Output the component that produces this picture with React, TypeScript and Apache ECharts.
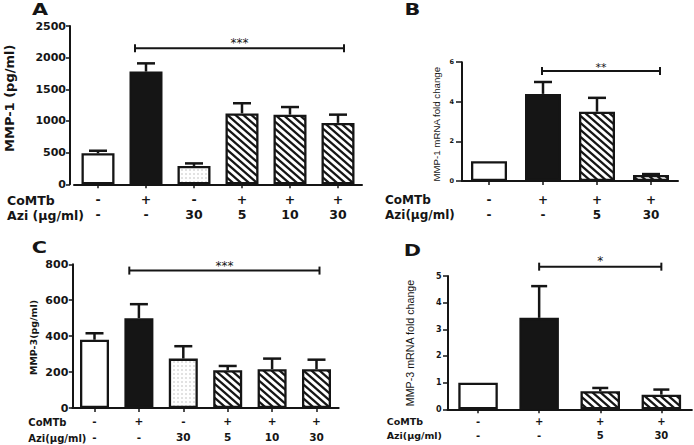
import React, { useEffect, useRef } from 'react';
import * as echarts from 'echarts';

// ---------- DATA ----------
// Panel A: MMP-1 protein (pg/ml)
const comTbA = ['-', '+', '-', '+', '+', '+'];
const aziA = ['-', '-', '30', '5', '10', '30'];
const meanA = [490, 1780, 290, 1120, 1100, 970];
const semA = [40, 130, 40, 160, 120, 130];
const fillA = ['open', 'solid', 'dotted', 'hatched', 'hatched', 'hatched'];
const bracketA = [1, 5, 2150];
const starsA = '***';
const ticksA = [0, 500, 1000, 1500, 2000, 2500];

// Panel B: MMP-1 mRNA fold change
const comTbB = ['-', '+', '+', '+'];
const aziB = ['-', '-', '5', '30'];
const meanB = [1.0, 4.4, 3.5, 0.3];
const semB = [0, 0.6, 0.7, 0.05];
const fillB = ['open', 'solid', 'hatched', 'hatched'];
const bracketB = [1, 3, 5.55];
const starsB = '**';
const ticksB = [0, 2, 4, 6];

// Panel C: MMP-3 protein (pg/ml)
const comTbC = ['-', '+', '-', '+', '+', '+'];
const aziC = ['-', '-', '30', '5', '10', '30'];
const meanC = [380, 500, 275, 210, 216, 216];
const semC = [36, 78, 69, 24, 59, 53];
const fillC = ['open', 'solid', 'dotted', 'hatched', 'hatched', 'hatched'];
const bracketC = [1, 5, 765];
const starsC = '***';
const ticksC = [0, 200, 400, 600, 800];

// Panel D: MMP-3 mRNA fold change
const comTbD = ['-', '+', '+', '+'];
const aziD = ['-', '-', '5', '30'];
const meanD = [1.0, 3.43, 0.68, 0.55];
const semD = [0, 1.19, 0.12, 0.19];
const fillD = ['open', 'solid', 'hatched', 'hatched'];
const bracketD = [1, 3, 5.35];
const starsD = '*';
const ticksD = [0, 1, 2, 3, 4, 5];

const titles = ['A', 'B', 'C', 'D'];
const yTitles = ['MMP-1 (pg/ml)', 'MMP-1 mRNA fold change', 'MMP-3(pg/ml)', 'MMP-3 mRNA fold change'];
const rowNames = [
  ['CoMTb', 'Azi (\u03bcg/ml)'],
  ['CoMTb', 'Azi(\u03bcg/ml)'],
  ['CoMTb', 'Azi(\u03bcg/ml)'],
  ['CoMTb', 'Azi(\u03bcg/ml)'],
];

// ---------- STYLE / LAYOUT ----------
const INK = '#151515';
const SANS = "'DejaVu Sans', sans-serif";
const ARIAL = "'Liberation Sans', Arial, sans-serif";

const layouts = [
  { left: 74, top: 26, width: 288, height: 158.3, yOffset: 4, tickLen: 4, yLabelSize: 11, yLabelMargin: 4,
    xLabelSize: 12.5, xLineHeight: 15, xLabelMargin: 8, barWidth: 33, cap: 9, dl: -11, dr: 6, starDy: -5.5, starSize: 12,
    letter: [40, 9.2], yTitle: { x: 9.2, y: 98.3, font: `bold 13px ${SANS}` },
    rows: { x: 7, y: [200, 215], size: 12.5 } },
  { left: 462, top: 62.2, width: 216, height: 118.8, yOffset: 0, tickLen: 6, yLabelSize: 6.5, yLabelMargin: 8,
    xLabelSize: 12, xLineHeight: 15, xLabelMargin: 11.5, barWidth: 36, cap: 9, dl: -1, dr: 9, starDy: -3.5, starSize: 11,
    letter: [412.5, 9.2], yTitle: { x: 436.7, y: 124.2, font: `9.7px ${ARIAL}` },
    rows: { x: 385, y: [200, 215], size: 12 } },
  { left: 72.3, top: 264.3, width: 266.4, height: 145, yOffset: 0, tickLen: 3.5, yLabelSize: 11, yLabelMargin: 4,
    xLabelSize: 10.5, xLineHeight: 16, xLabelMargin: 5, barWidth: 29, cap: 9, dl: -9.6, dr: 3, starDy: -4.8, starSize: 12,
    letter: [39.5, 247.5], yTitle: { x: 33.5, y: 337.5, font: `bold 9.5px ${SANS}` },
    rows: { x: 28.3, y: [422.3, 438.3], size: 10 } },
  { left: 447.5, top: 276, width: 244.4, height: 133.3, yOffset: 0, tickLen: 4.5, yLabelSize: 8, yLabelMargin: 6,
    xLabelSize: 10, xLineHeight: 13.5, xLabelMargin: 5.6, barWidth: 39.5, cap: 8, dl: 0, dr: 0, starDy: -5.2, starSize: 12,
    letter: [412.5, 250], yTitle: { x: 410, y: 343, font: `10.7px ${ARIAL}` },
    rows: { x: 386.7, y: [421.7, 435], size: 9.5 } },
];

const panels = [
  { comTb: comTbA, azi: aziA, mean: meanA, sem: semA, fill: fillA, bracket: bracketA, stars: starsA, ticks: ticksA },
  { comTb: comTbB, azi: aziB, mean: meanB, sem: semB, fill: fillB, bracket: bracketB, stars: starsB, ticks: ticksB },
  { comTb: comTbC, azi: aziC, mean: meanC, sem: semC, fill: fillC, bracket: bracketC, stars: starsC, ticks: ticksC },
  { comTb: comTbD, azi: aziD, mean: meanD, sem: semD, fill: fillD, bracket: bracketD, stars: starsD, ticks: ticksD },
];

function makeHatch(): HTMLCanvasElement {
  const w = 8, h = 7;
  const c = document.createElement('canvas');
  c.width = w; c.height = h;
  const ctx = c.getContext('2d')!;
  ctx.fillStyle = '#ffffff';
  ctx.fillRect(0, 0, w, h);
  ctx.strokeStyle = INK;
  ctx.lineWidth = 2.3;
  for (let k = -1; k <= 1; k++) {
    ctx.beginPath();
    ctx.moveTo(-w, k * h - h);
    ctx.lineTo(2 * w, k * h + 2 * h);
    ctx.stroke();
  }
  return c;
}

function makeDots(): HTMLCanvasElement {
  const s = 4;
  const c = document.createElement('canvas');
  c.width = s; c.height = s;
  const ctx = c.getContext('2d')!;
  ctx.fillStyle = '#ffffff';
  ctx.fillRect(0, 0, s, s);
  ctx.fillStyle = '#8a8a8a';
  ctx.fillRect(1.5, 1.5, 1, 1);
  return c;
}

export default function App() {
  const ref = useRef<HTMLDivElement>(null);

  useEffect(() => {
    if (!ref.current) return;
    const chart = echarts.init(ref.current, null, { renderer: 'svg' });
    const hatch = makeHatch();
    const dots = makeDots();

    const fillStyle = (kind: string) => {
      const base: any = { borderColor: INK, borderWidth: 2.3 };
      if (kind === 'open') return { ...base, color: '#ffffff' };
      if (kind === 'solid') return { ...base, color: INK };
      if (kind === 'dotted') return { ...base, color: { image: dots, repeat: 'repeat', imageWidth: 4, imageHeight: 4 } };
      return { ...base, color: { image: hatch, repeat: 'repeat', imageWidth: 8, imageHeight: 7 } };
    };

    const grid: any[] = [];
    const xAxis: any[] = [];
    const yAxis: any[] = [];
    const series: any[] = [];
    const graphic: any[] = [];

    panels.forEach((p, k) => {
      const L = layouts[k];
      const maxV = p.ticks[p.ticks.length - 1];
      const step = p.ticks[1] - p.ticks[0];
      grid.push({ left: L.left, top: L.top, width: L.width, height: L.height, containLabel: false });
      xAxis.push({
        type: 'category',
        gridIndex: k,
        data: p.mean.map((_, i) => String(i)),
        axisLine: { show: true, lineStyle: { color: INK, width: 2 } },
        axisTick: { show: true, alignWithLabel: true, length: 4, lineStyle: { color: INK, width: 1.5 } },
        axisLabel: {
          interval: 0,
          formatter: (_v: string, i: number) => `${p.comTb[i]}\n${p.azi[i]}`,
          fontFamily: SANS,
          fontWeight: 'bold',
          fontSize: L.xLabelSize,
          lineHeight: L.xLineHeight,
          margin: L.xLabelMargin,
          color: INK,
        },
        splitLine: { show: false },
      });
      yAxis.push({
        type: 'value',
        gridIndex: k,
        min: 0,
        max: maxV,
        interval: step,
        offset: L.yOffset,
        axisLine: { show: true, lineStyle: { color: INK, width: 2 } },
        axisTick: { show: true, length: L.tickLen, lineStyle: { color: INK, width: 1.5 } },
        axisLabel: {
          formatter: (v: number) => String(v),
          fontFamily: SANS,
          fontWeight: 'bold',
          fontSize: L.yLabelSize,
          margin: L.yLabelMargin,
          color: INK,
        },
        splitLine: { show: false },
      });
      series.push({
        type: 'bar',
        xAxisIndex: k,
        yAxisIndex: k,
        barWidth: L.barWidth,
        silent: true,
        z: 2,
        data: p.mean.map((v, i) => ({ value: v, itemStyle: fillStyle(p.fill[i]) })),
      });
      series.push({
        type: 'custom',
        xAxisIndex: k,
        yAxisIndex: k,
        silent: true,
        z: 3,
        encode: { x: 0, y: [1, 2] },
        data: p.mean.map((v, i) => [i, v, v + p.sem[i]]),
        renderItem: (_params: any, api: any) => {
          const i = api.value(0);
          const lo = api.value(1);
          const hi = api.value(2);
          if (!(hi > lo)) return { type: 'group', children: [] };
          const b = api.coord([i, lo]);
          const t = api.coord([i, hi]);
          const st = { stroke: INK, lineWidth: 2.5 };
          return {
            type: 'group',
            children: [
              { type: 'line', shape: { x1: t[0], y1: b[1], x2: t[0], y2: t[1] }, style: st },
              { type: 'line', shape: { x1: t[0] - L.cap, y1: t[1], x2: t[0] + L.cap, y2: t[1] }, style: st },
            ],
          };
        },
      });
      series.push({
        type: 'custom',
        xAxisIndex: k,
        yAxisIndex: k,
        silent: true,
        z: 3,
        encode: { x: [0, 1], y: 2 },
        data: [p.bracket],
        renderItem: (_params: any, api: any) => {
          const a = api.coord([api.value(0), api.value(2)]);
          const b = api.coord([api.value(1), api.value(2)]);
          const x1 = a[0] + L.dl;
          const x2 = b[0] + L.dr;
          const y = a[1];
          const st = { stroke: INK, lineWidth: 2 };
          return {
            type: 'group',
            children: [
              { type: 'line', shape: { x1, y1: y, x2, y2: y }, style: st },
              { type: 'line', shape: { x1, y1: y - 4, x2: x1, y2: y + 4 }, style: st },
              { type: 'line', shape: { x1: x2, y1: y - 4, x2, y2: y + 4 }, style: st },
              {
                type: 'text',
                x: (x1 + x2) / 2,
                y: y + L.starDy,
                style: {
                  text: p.stars,
                  fill: INK,
                  font: `${L.starSize}px ${SANS}`,
                  align: 'center',
                  verticalAlign: 'middle',
                },
              },
            ],
          };
        },
      });

      graphic.push({
        type: 'text',
        x: L.letter[0],
        y: L.letter[1],
        scaleX: 1.3,
        style: { text: titles[k], fill: INK, font: `bold 16px ${SANS}`, align: 'center', verticalAlign: 'middle' },
      });
      graphic.push({
        type: 'text',
        x: L.yTitle.x,
        y: L.yTitle.y,
        rotation: Math.PI / 2,
        style: { text: yTitles[k], fill: INK, font: L.yTitle.font, align: 'center', verticalAlign: 'middle' },
      });
      rowNames[k].forEach((name, r) => {
        graphic.push({
          type: 'text',
          x: L.rows.x,
          y: L.rows.y[r],
          style: { text: name, fill: INK, font: `bold ${L.rows.size}px ${SANS}`, align: 'left', verticalAlign: 'middle' },
        });
      });
    });

    chart.setOption({
      animation: false,
      backgroundColor: '#ffffff',
      grid,
      xAxis,
      yAxis,
      series,
      graphic,
    });

    return () => chart.dispose();
  }, []);

  return (
    <div
      ref={ref}
      style={{ position: 'absolute', left: 0, top: 0, width: 694, height: 445 }}
    />
  );
}
